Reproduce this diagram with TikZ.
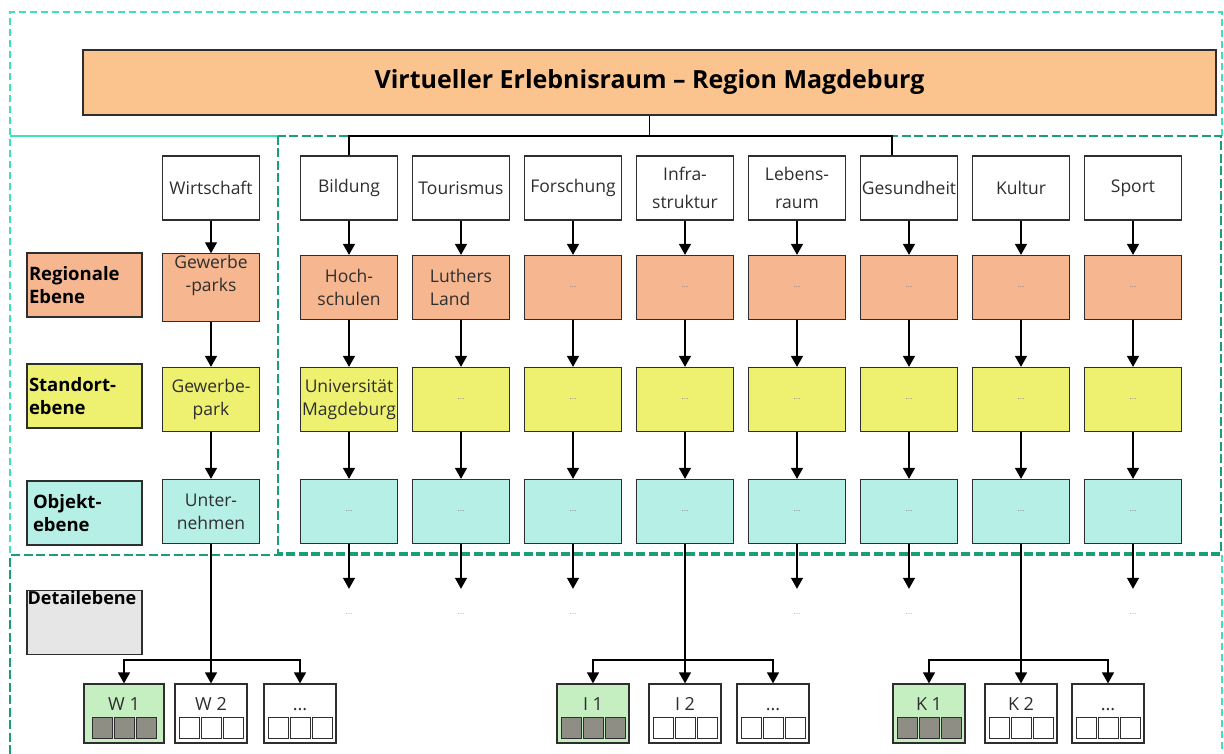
\documentclass[tikz,border=0pt]{standalone}
\usepackage{fontspec}
\setmainfont{Open Sans}
\usetikzlibrary{arrows.meta}

\definecolor{titleorange}{HTML}{FBC48F}
\definecolor{regorange}{HTML}{F6B790}
\definecolor{stdyellow}{HTML}{EEF170}
\definecolor{objcyan}{HTML}{B6EFE6}
\definecolor{detgray}{HTML}{E6E6E6}
\definecolor{hitgreen}{HTML}{C6EFC1}
\definecolor{slotgray}{HTML}{8E8E84}
\definecolor{framelight}{HTML}{3FE2B6}
\definecolor{framedark}{HTML}{1A9E78}
\definecolor{inkgray}{HTML}{2E2E2E}

\tikzset{
  box/.style={draw=inkgray, line width=1.2pt, minimum width=97pt, minimum height=64pt,
    align=center, inner sep=1pt, text=inkgray, font=\fontsize{17.5}{23}\selectfont},
  regbox/.style={box, fill=regorange},
  stdbox/.style={box, fill=stdyellow},
  objbox/.style={box, fill=objcyan},
  levelbox/.style={box, minimum width=115pt, text width=111pt, align=left, text=black,
    font=\fontsize{18.5}{23}\selectfont\bfseries},
  more/.style={font=\fontsize{9}{10}\selectfont, text=black!45},
  link/.style={draw=black, line width=1.3pt},
  arr/.style={link, -{Triangle[width=12pt,length=11pt]}},
  lightframe/.style={draw=framelight, line width=1.3pt, dash pattern=on 7pt off 4pt},
  darkframe/.style={draw=framedark, line width=2.2pt, dash pattern=on 9pt off 3.5pt},
  slot/.style={draw=inkgray, line width=1pt, fill=#1},
  itembox/.style={draw=inkgray, line width=1.2pt, minimum width=72pt, minimum height=59pt,
    inner sep=4pt, text height=22pt, text depth=29pt, text=inkgray,
    font=\fontsize{18}{20}\selectfont,
    path picture={
      \draw[slot=#1] ([shift={(-32pt,5pt)}]path picture bounding box.south) rectangle +(20pt,21pt);
      \draw[slot=#1] ([shift={(-10pt,5pt)}]path picture bounding box.south) rectangle +(20pt,21pt);
      \draw[slot=#1] ([shift={(12pt,5pt)}]path picture bounding box.south) rectangle +(20pt,21pt);
    }},
  itembox/.default=white
}

\begin{document}
\begin{tikzpicture}[x=1pt,y=-1pt]
  \useasboundingbox (0,0) rectangle (1224,754);

  % frames
  \draw[lightframe] (10,553) -- (10,12) -- (1222,12) -- (1222,136);
  \draw[lightframe] (1222,555) -- (1222,753);
  \draw[draw=framelight, line width=1.3pt] (10,136) -- (278,136);
  \draw[darkframe] (278,136) rectangle (1221,553);
  \draw[darkframe] (10,754) -- (10,555) -- (1221,555);

  \node[draw=inkgray, line width=1.2pt, fill=titleorange, minimum width=1133pt,
    minimum height=65pt, font=\fontsize{25}{28}\selectfont\bfseries]
    (title) at (649.5,82.5) {Virtueller Erlebnisraum – Region Magdeburg};

  % level labels
  \node[levelbox, fill=regorange] (lreg) at (84.5,285) {Regionale\\Ebene};
  \node[levelbox, fill=stdyellow] (lstd) at (84.5,396) {Standort-\\ebene};
  \node[levelbox, fill=objcyan] (lobj) at (84.5,513) {\hspace*{4pt}Objekt-\\\hspace*{4pt}ebene};
  \node[levelbox, fill=detgray,
    label={[anchor=north west, inner sep=1pt, font=\fontsize{18}{20}\selectfont\bfseries]north west:Detailebene}]
    (ldet) at (84.5,622.5) {};

  % categories
  \node[box] (w0) at (211,188) {Wirtschaft};
  \node[box] (b0) at (349,188) {Bildung};
  \node[box] (t0) at (461,188) {Tourismus};
  \node[box] (f0) at (573,188) {Forschung};
  \node[box] (i0) at (685,188) {Infra-\\[5pt]struktur};
  \node[box] (l0) at (797,188) {Lebens-\\[5pt]raum};
  \node[box] (g0) at (909,188) {Gesundheit};
  \node[box] (k0) at (1021,188) {Kultur};
  \node[box] (s0) at (1133,188) {Sport};

  % regionale ebene
  \node[regbox] (w1) at (211,287.5) {Gewerbe\\-parks\\[6pt]};
  \node[regbox] (b1) at (349,287.5) {Hoch-\\schulen};
  \node[regbox, align=left] (t1) at (461,287.5) {Luthers\\Land};
  \node[regbox, more] (f1) at (573,287.5) {...};
  \node[regbox, more] (i1) at (685,287.5) {...};
  \node[regbox, more] (l1) at (797,287.5) {...};
  \node[regbox, more] (g1) at (909,287.5) {...};
  \node[regbox, more] (k1) at (1021,287.5) {...};
  \node[regbox, more] (s1) at (1133,287.5) {...};

  % standortebene
  \node[stdbox] (w2) at (211,399.5) {Gewerbe-\\park};
  \node[stdbox] (b2) at (349,399.5) {Universität\\Magdeburg};
  \node[stdbox, more] (t2) at (461,399.5) {...};
  \node[stdbox, more] (f2) at (573,399.5) {...};
  \node[stdbox, more] (i2) at (685,399.5) {...};
  \node[stdbox, more] (l2) at (797,399.5) {...};
  \node[stdbox, more] (g2) at (909,399.5) {...};
  \node[stdbox, more] (k2) at (1021,399.5) {...};
  \node[stdbox, more] (s2) at (1133,399.5) {...};

  % objektebene
  \node[objbox] (w3) at (211,511.5) {Unter-\\nehmen};
  \node[objbox, more] (b3) at (349,511.5) {...};
  \node[objbox, more] (t3) at (461,511.5) {...};
  \node[objbox, more] (f3) at (573,511.5) {...};
  \node[objbox, more] (i3) at (685,511.5) {...};
  \node[objbox, more] (l3) at (797,511.5) {...};
  \node[objbox, more] (g3) at (909,511.5) {...};
  \node[objbox, more] (k3) at (1021,511.5) {...};
  \node[objbox, more] (s3) at (1133,511.5) {...};

  % detailebene
  \node[more, text=black!30, minimum height=50pt] (bd) at (349,614) {...};
  \node[more, text=black!30, minimum height=50pt] (td) at (461,614) {...};
  \node[more, text=black!30, minimum height=50pt] (fd) at (573,614) {...};
  \node[more, text=black!30, minimum height=50pt] (ld) at (797,614) {...};
  \node[more, text=black!30, minimum height=50pt] (gd) at (909,614) {...};
  \node[more, text=black!30, minimum height=50pt] (sd) at (1133,614) {...};

  \node[itembox=slotgray, fill=hitgreen, minimum width=80pt] (wa) at (124,713.5) {W 1};
  \node[itembox] (wb) at (211,713.5) {W 2};
  \node[itembox] (wc) at (300,713.5) {...};
  \node[itembox=slotgray, fill=hitgreen] (ia) at (593,713.5) {I 1};
  \node[itembox] (ib) at (685,713.5) {I 2};
  \node[itembox] (ic) at (773,713.5) {...};
  \node[itembox=slotgray, fill=hitgreen] (ka) at (929,713.5) {K 1};
  \node[itembox] (kb) at (1021,713.5) {K 2};
  \node[itembox] (kc) at (1108,713.5) {...};

  \coordinate (hub) at (649.5,136);
  \coordinate (wbar) at (211,660);
  \coordinate (ibar) at (685,660);
  \coordinate (kbar) at (1021,660);

  \begin{scope}[link]
    \draw (title) -- (hub);
    \draw (b0) |- (hub);
    \draw (hub) -| ([xshift=-17pt]g0.north);
  \end{scope}

  \begin{scope}[arr]
    \draw (w0) -- (w1);
    \draw (w1) -- (w2);
    \draw (w2) -- (w3);
    \draw (b0) -- (b1);
    \draw (b1) -- (b2);
    \draw (b2) -- (b3);
    \draw (t0) -- (t1);
    \draw (t1) -- (t2);
    \draw (t2) -- (t3);
    \draw (f0) -- (f1);
    \draw (f1) -- (f2);
    \draw (f2) -- (f3);
    \draw (i0) -- (i1);
    \draw (i1) -- (i2);
    \draw (i2) -- (i3);
    \draw (l0) -- (l1);
    \draw (l1) -- (l2);
    \draw (l2) -- (l3);
    \draw (g0) -- (g1);
    \draw (g1) -- (g2);
    \draw (g2) -- (g3);
    \draw (k0) -- (k1);
    \draw (k1) -- (k2);
    \draw (k2) -- (k3);
    \draw (s0) -- (s1);
    \draw (s1) -- (s2);
    \draw (s2) -- (s3);
    \draw (b3) -- (bd);
    \draw (t3) -- (td);
    \draw (f3) -- (fd);
    \draw (l3) -- (ld);
    \draw (g3) -- (gd);
    \draw (s3) -- (sd);
    \draw (w3) -- (wb);
    \draw (wbar) -| (wa);
    \draw (wbar) -| (wc);
    \draw (i3) -- (ib);
    \draw (ibar) -| (ia);
    \draw (ibar) -| (ic);
    \draw (k3) -- (kb);
    \draw (kbar) -| (ka);
    \draw (kbar) -| (kc);
  \end{scope}
\end{tikzpicture}
\end{document}
